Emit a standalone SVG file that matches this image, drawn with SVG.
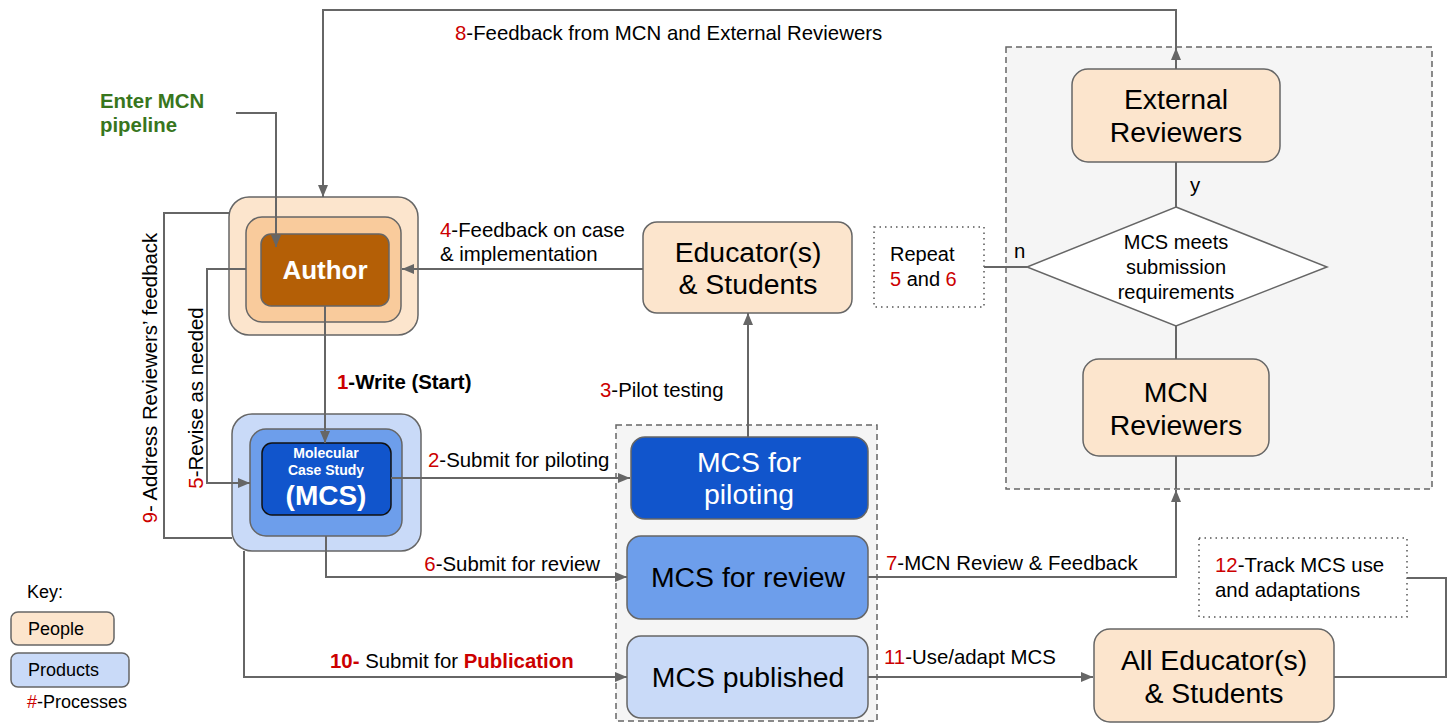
<svg xmlns="http://www.w3.org/2000/svg" width="1449" height="724" viewBox="0 0 1449 724">
<style>
text{font-family:"Liberation Sans",Arial,sans-serif;fill:#000}
.lbl{font-size:20.4px}
.big{font-size:28.4px}
.red{fill:#cc0000}
.b{font-weight:bold}
.c{stroke:#666;stroke-width:2;fill:none}
.people{fill:#fce5cd;stroke:#666;stroke-width:1.5}
.grp{fill:#f5f5f5;stroke:#666;stroke-width:1.5;stroke-dasharray:6 4}
.dot{fill:#fff;stroke:#555;stroke-width:1.5;stroke-dasharray:1.5 4}
</style>
<defs>
<marker id="arr" viewBox="0 0 12 10" refX="12" refY="5" markerWidth="12" markerHeight="10" orient="auto" markerUnits="userSpaceOnUse"><path d="M0,0 L12,5 L0,10 z" fill="#666"/></marker>
</defs>

<g id="review-group"><rect class="grp" x="1006" y="47" width="426" height="442"/></g>
<g id="mcs-group"><rect class="grp" x="616" y="425" width="261" height="296"/></g>

<g id="author">
<rect x="229" y="197" width="189" height="138" rx="20" fill="#fce5cd" stroke="#666" stroke-width="1.5"/>
<rect x="246" y="217" width="155" height="105" rx="16" fill="#f9cb9c" stroke="#666" stroke-width="1.5"/>
<rect x="261" y="234" width="128" height="72" rx="10" fill="#b45f06" stroke="#666" stroke-width="1.5"/>
<text x="325" y="279" text-anchor="middle" class="b" style="font-size:26px;fill:#fff">Author</text>
</g>

<g id="mcs">
<rect x="232" y="414" width="189" height="137" rx="20" fill="#c9daf8" stroke="#666" stroke-width="1.5"/>
<rect x="250" y="429" width="152" height="107" rx="16" fill="#6d9eeb" stroke="#666" stroke-width="1.5"/>
<rect x="262" y="443" width="129" height="72" rx="10" fill="#1155cc" stroke="#111" stroke-width="1.5"/>
<text x="326" y="458" text-anchor="middle" class="b" style="font-size:14px;fill:#fff">Molecular</text>
<text x="326" y="475" text-anchor="middle" class="b" style="font-size:14px;fill:#fff">Case Study</text>
<text x="326" y="505" text-anchor="middle" class="b" style="font-size:28px;fill:#fff">(MCS)</text>
</g>

<g id="educators">
<rect class="people" x="643" y="222" width="209" height="91" rx="14"/>
<text class="big" x="748" y="262" text-anchor="middle">Educator(s)</text>
<text class="big" x="748" y="294" text-anchor="middle">&amp; Students</text>
</g>

<g id="mcs-piloting">
<rect x="631" y="437" width="237" height="82" rx="14" fill="#1155cc" stroke="#666" stroke-width="1.5"/>
<text class="big" x="749" y="472" text-anchor="middle" style="fill:#fff">MCS for</text>
<text class="big" x="749" y="504" text-anchor="middle" style="fill:#fff">piloting</text>
</g>

<g id="mcs-review">
<rect x="627" y="536" width="241" height="83" rx="14" fill="#6d9eeb" stroke="#666" stroke-width="1.5"/>
<text class="big" x="748" y="587" text-anchor="middle">MCS for review</text>
</g>

<g id="mcs-published">
<rect x="627" y="636" width="241" height="82" rx="14" fill="#c9daf8" stroke="#666" stroke-width="1.5"/>
<text class="big" x="748" y="687" text-anchor="middle">MCS published</text>
</g>

<g id="external-reviewers">
<rect class="people" x="1072" y="69" width="208" height="93" rx="16"/>
<text class="big" x="1176" y="109" text-anchor="middle">External</text>
<text class="big" x="1176" y="142" text-anchor="middle">Reviewers</text>
</g>

<g id="decision">
<polygon points="1176,207 1327,267 1176,326 1027,267" fill="#fff" stroke="#666" stroke-width="1.5"/>
<text x="1176" y="249" text-anchor="middle" style="font-size:20px">MCS meets</text>
<text x="1176" y="274" text-anchor="middle" style="font-size:20px">submission</text>
<text x="1176" y="299" text-anchor="middle" style="font-size:20px">requirements</text>
</g>

<g id="repeat">
<rect class="dot" x="874" y="227" width="110" height="80"/>
<text x="890" y="261" style="font-size:20px">Repeat</text>
<text x="890" y="286" style="font-size:20px"><tspan class="red">5</tspan> and <tspan class="red">6</tspan></text>
</g>

<g id="mcn-reviewers">
<rect class="people" x="1083" y="359" width="186" height="97" rx="16"/>
<text class="big" x="1176" y="402" text-anchor="middle">MCN</text>
<text class="big" x="1176" y="435" text-anchor="middle">Reviewers</text>
</g>

<g id="all-educators">
<rect class="people" x="1094" y="629" width="240" height="93" rx="16"/>
<text class="big" x="1214" y="670" text-anchor="middle">All Educator(s)</text>
<text class="big" x="1214" y="703" text-anchor="middle">&amp; Students</text>
</g>

<g id="track">
<rect class="dot" x="1199" y="538" width="208" height="79"/>
<text class="lbl" x="1215" y="572"><tspan class="red">12</tspan>-Track MCS use</text>
<text class="lbl" x="1215" y="597">and adaptations</text>
</g>

<g id="key">
<text x="27" y="598" style="font-size:18px">Key:</text>
<rect x="11" y="612" width="103" height="33" rx="7" fill="#fce5cd" stroke="#666" stroke-width="1.5"/>
<text x="28" y="635" style="font-size:18px">People</text>
<rect x="11" y="653" width="118" height="34" rx="7" fill="#c9daf8" stroke="#666" stroke-width="1.5"/>
<text x="28" y="676" style="font-size:18px">Products</text>
<text x="27" y="708" style="font-size:18px"><tspan class="red">#</tspan>-Processes</text>
</g>

<g id="connectors">
<path class="c" d="M1176,69 L1176,48" marker-end="url(#arr)"/>
<path class="c" d="M1176,48 L1176,10 L323,10 L323,197" marker-end="url(#arr)"/>
<path class="c" d="M236,113 L276,113 L276,247" marker-end="url(#arr)"/>
<path class="c" d="M643,269 L402,269" marker-end="url(#arr)"/>
<path class="c" d="M748,437 L748,313" marker-end="url(#arr)"/>
<path class="c" d="M325,306 L325,443" marker-end="url(#arr)"/>
<path class="c" d="M391,478 L630,478" marker-end="url(#arr)"/>
<path class="c" d="M246,269 L207,269 L207,483 L250,483" marker-end="url(#arr)"/>
<path class="c" d="M229,213 L164,213 L164,538 L232,538"/>
<path class="c" d="M326,536 L326,577 L627,577" marker-end="url(#arr)"/>
<path class="c" d="M244,551 L244,677 L627,677" marker-end="url(#arr)"/>
<path class="c" d="M868,577 L1176,577 L1176,490" marker-end="url(#arr)"/>
<path class="c" d="M1176,456 L1176,489"/>
<path class="c" d="M1176,162 L1176,207"/>
<path class="c" d="M1176,326 L1176,359"/>
<path class="c" d="M984,267 L1027,267"/>
<path class="c" d="M868,677 L1093,677" marker-end="url(#arr)"/>
<path class="c" d="M1334,677 L1446,677 L1446,578 L1407,578"/>
</g>

<g id="labels">
<text class="lbl" x="455" y="40"><tspan class="red">8</tspan>-Feedback from MCN and External Reviewers</text>
<text class="lbl" x="440" y="237"><tspan class="red">4</tspan>-Feedback on case</text>
<text class="lbl" x="440" y="261">&amp; implementation</text>
<text class="lbl" x="600" y="397"><tspan class="red">3</tspan>-Pilot testing</text>
<text class="lbl b" x="337" y="389"><tspan class="red">1</tspan>-Write (Start)</text>
<text class="lbl" x="428" y="467"><tspan class="red">2</tspan>-Submit for piloting</text>
<text class="lbl" x="600" y="571" text-anchor="end"><tspan class="red">6</tspan>-Submit for review</text>
<text class="lbl" x="330" y="668"><tspan class="red b">10-</tspan> Submit for <tspan class="red b">Publication</tspan></text>
<text class="lbl" x="886" y="570"><tspan class="red">7</tspan>-MCN Review &amp; Feedback</text>
<text class="lbl" x="884" y="664"><tspan class="red">11</tspan>-Use/adapt MCS</text>
<text class="lbl" transform="translate(203,398) rotate(-90)" text-anchor="middle"><tspan class="red">5</tspan>-Revise as needed</text>
<text class="lbl" transform="translate(157,378) rotate(-90)" text-anchor="middle"><tspan class="red">9</tspan>- Address Reviewers’ feedback</text>
<text class="lbl" x="1190" y="192">y</text>
<text class="lbl" x="1014" y="258">n</text>
<text class="lbl b" x="100" y="108" style="fill:#38761d">Enter MCN</text>
<text class="lbl b" x="100" y="132" style="fill:#38761d">pipeline</text>
</g>
</svg>
